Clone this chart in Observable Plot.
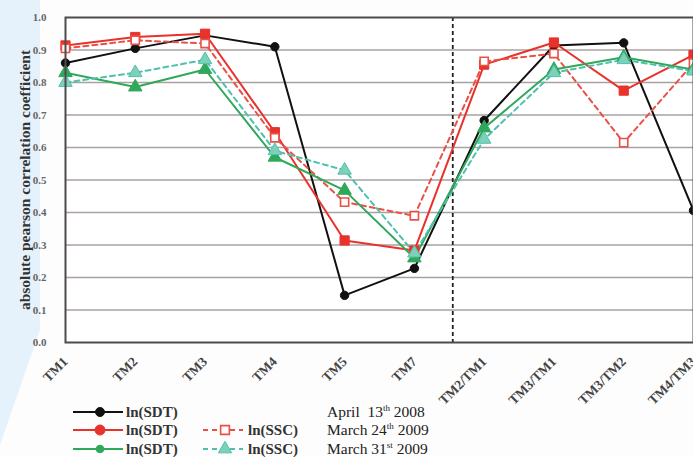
<!DOCTYPE html>
<html>
<head>
<meta charset="utf-8">
<script src="https://cdn.jsdelivr.net/npm/d3@7"></script>
<script src="https://cdn.jsdelivr.net/npm/@observablehq/plot@0.6"></script>
<style>
  html, body { margin: 0; padding: 0; background: #fdfdfd; }
  #wrap { position: relative; width: 693px; height: 457px; overflow: hidden; font-family: "Liberation Serif", "DejaVu Serif", serif; }
  #wash { position: absolute; left: 0; top: 0; width: 693px; height: 457px;
          background: #e6f2fb; clip-path: polygon(0 0, 40px 0, 40px 330px, 0 445px); }
  #chart { position: absolute; left: 0; top: 0; }
  #legend { position: absolute; left: 0; top: 400px; width: 693px; height: 57px; font-size: 15.5px; color: #222; }
  .row { position: absolute; height: 18px; line-height: 18px; white-space: nowrap; }
  .row svg { position: absolute; top: 0; }
  .row span { position: absolute; top: 0; }
  .name { font-weight: bold; font-size: 15px; color: #333; }
  sup { font-size: 9px; vertical-align: 6px; line-height: 0; }
</style>
</head>
<body>
<div id="wrap">
  <div id="wash"></div>
  <div id="chart"></div>
  <div id="legend"></div>
</div>
<script>
// Spectral bands and band ratios along the x axis
const bands = ["TM1", "TM2", "TM3", "TM4", "TM5", "TM7", "TM2/TM1", "TM3/TM1", "TM3/TM2", "TM4/TM3"];

// |Pearson r| per band, one list per variable and acquisition date
const sdtApr13_2008 = [0.86, 0.905, 0.945, 0.91, 0.145, 0.228, 0.683, 0.914, 0.922, 0.406];
const sdtMar24_2009 = [0.914, 0.94, 0.95, 0.647, 0.314, 0.283, 0.855, 0.923, 0.775, 0.885];
const sscMar24_2009 = [0.905, 0.93, 0.92, 0.63, 0.432, 0.39, 0.865, 0.889, 0.615, 0.86];
const sdtMar31_2009 = [0.83, 0.786, 0.84, 0.57, 0.468, 0.26, 0.66, 0.84, 0.878, 0.84];
const sscMar31_2009 = [0.80, 0.83, 0.87, 0.59, 0.53, 0.275, 0.625, 0.83, 0.87, 0.835];

const yTicks = [0, 0.1, 0.2, 0.3, 0.4, 0.5, 0.6, 0.7, 0.8, 0.9, 1.0];

const series = [
  {key: "sdt08", name: "ln(SDT)", values: sdtApr13_2008, color: "#111111", dash: null,  symbol: "circle",   fill: "#111111", r: 4.2, legendR: 4.5},
  {key: "sdt24", name: "ln(SDT)", values: sdtMar24_2009, color: "#e8322b", dash: null,  symbol: "square",   fill: "#e8322b", r: 5.2, legendR: 5},
  {key: "ssc24", name: "ln(SSC)", values: sscMar24_2009, color: "#ea5046", dash: "5,4", symbol: "square",   fill: "white",   r: 4.6, legendR: 4.6},
  {key: "sdt31", name: "ln(SDT)", values: sdtMar31_2009, color: "#2fa85a", dash: null,  symbol: "triangle", fill: "#2fa85a", r: 5,   legendR: 3.8},
  {key: "ssc31", name: "ln(SSC)", values: sscMar31_2009, color: "#4fc0b0", dash: "5,4", symbol: "triangle", fill: "#7fd0b8", r: 5,   legendR: 4.6}
];

// Dashed divider between single bands and band ratios
const dividerAt = 5.55;

const rowsOf = s => s.values.map((v, i) => ({i, v, key: s.key}));

const marks = [
  Plot.frame({fill: "white"}),
  Plot.ruleY(yTicks.slice(1, -1), {stroke: "#a8a1a1", strokeWidth: 1.6}),
  Plot.ruleX([dividerAt], {stroke: "#222", strokeWidth: 1.8, strokeDasharray: "4,3"})
];
for (const s of series) {
  marks.push(Plot.line(rowsOf(s), {x: "i", y: "v", stroke: s.color, strokeWidth: 2, strokeDasharray: s.dash}));
}
for (const s of series) {
  marks.push(Plot.dot(rowsOf(s), {x: "i", y: "v", symbol: s.symbol, r: s.r, fill: s.fill, stroke: s.color, strokeWidth: s.fill === "white" ? 1.6 : 1}));
}
marks.push(
  Plot.frame({stroke: "#4e4a4a", strokeWidth: 2}),
  Plot.axisY({
    ticks: yTicks, tickFormat: d3.format(".1f"), tickSize: 0, tickPadding: 19,
    fontSize: 11, fontWeight: "bold", fill: "#666",
    label: "absolute pearson correlation coefficient", labelAnchor: "center", labelArrow: "none",
    labelOffset: 47
  }),
  Plot.axisX({
    ticks: d3.range(bands.length), tickFormat: i => bands[i], tickSize: 0, tickPadding: 17,
    tickRotate: -45, fontSize: 13.5, fontWeight: "bold", fill: "#444", label: null
  })
);

const chart = Plot.plot({
  width: 693,
  height: 457,
  marginTop: 17,
  marginBottom: 115,
  marginLeft: 65,
  marginRight: 0,
  style: {background: "transparent", fontFamily: "'Liberation Serif', serif", color: "#333"},
  x: {type: "linear", domain: [0, bands.length - 1]},
  y: {domain: [0, 1]},
  marks
});
// y-axis title: bold and larger than the tick labels
chart.querySelectorAll("[aria-label='y-axis label'] text").forEach(t => {
  t.setAttribute("font-size", "15.5");
  t.setAttribute("font-weight", "bold");
  t.setAttribute("fill", "#333");
});
document.getElementById("chart").appendChild(chart);

// Legend: three acquisition dates, SDT and (where available) SSC
const dates = [
  ["April\u00a0\u00a013", "th", " 2008"],
  ["March 24", "th", " 2009"],
  ["March 31", "st", " 2009"]
];
const legendRows = [
  {sdt: series[0], ssc: null, date: dates[0]},
  {sdt: series[1], ssc: series[2], date: dates[1]},
  {sdt: series[3], ssc: series[4], date: dates[2]}
];
const legend = document.getElementById("legend");
const symbolType = s => s === "circle" ? d3.symbolCircle : s === "square" ? d3.symbolSquare : d3.symbolTriangle;
// Line sample with a marker; SDT samples use round markers
const sample = (s, w, mx, symbol) => {
  const svg = d3.create("svg").attr("width", w).attr("height", 18);
  svg.append("line").attr("x1", 0).attr("x2", w).attr("y1", 9).attr("y2", 9)
    .attr("stroke", s.color).attr("stroke-width", 2).attr("stroke-dasharray", s.dash);
  const area = symbol === "circle" ? Math.PI * s.legendR * s.legendR : s.legendR * s.legendR * 3.6;
  svg.append("path").attr("transform", `translate(${mx},9)`)
    .attr("d", d3.symbol(symbolType(symbol), area)())
    .attr("fill", s.fill).attr("stroke", s.color).attr("stroke-width", s.fill === "white" ? 1.6 : 1);
  return svg.node();
};
const rowTops = [3, 21, 40];
legendRows.forEach((row, k) => {
  const div = document.createElement("div");
  div.className = "row";
  div.style.top = rowTops[k] + "px";
  div.style.left = "0px";
  div.style.width = "693px";
  const a = sample(row.sdt, 50, 27, "circle"); a.style.left = "73px"; div.appendChild(a);
  const ta = document.createElement("span"); ta.className = "name"; ta.textContent = row.sdt.name; ta.style.left = "126px"; div.appendChild(ta);
  if (row.ssc) {
    const b = sample(row.ssc, 40, 22, row.ssc.symbol); b.style.left = "203px"; div.appendChild(b);
    const tb = document.createElement("span"); tb.className = "name"; tb.textContent = row.ssc.name; tb.style.left = "248px"; div.appendChild(tb);
  }
  const td = document.createElement("span"); td.style.left = "327px";
  td.innerHTML = row.date[0] + "<sup>" + row.date[1] + "</sup>" + row.date[2];
  div.appendChild(td);
  legend.appendChild(div);
});
</script>
</body>
</html>
